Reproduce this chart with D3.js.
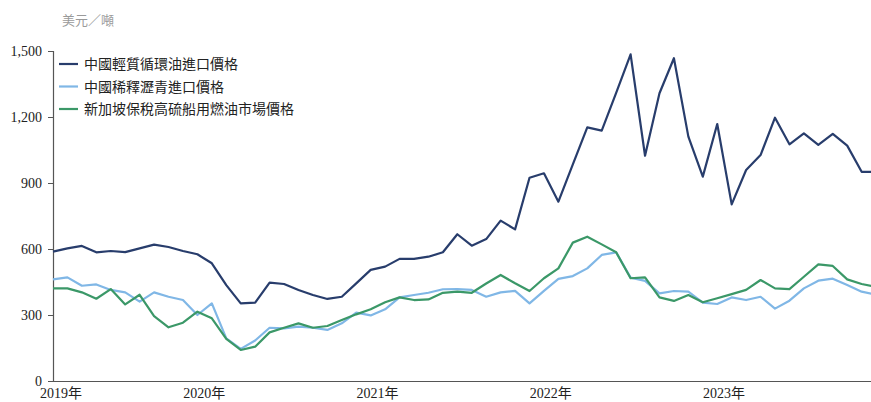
<!DOCTYPE html>
<html>
<head>
<meta charset="utf-8">
<script src="https://cdn.jsdelivr.net/npm/d3@7"></script>
<style>
  body { margin: 0; background: #fff; }
  svg { display: block; }
</style>
</head>
<body>
<svg id="chart" width="871" height="402"></svg>
<script>
// months from 2019-01 onward (last one sits just past the right edge)
let months = d3.range(58).map(i => {
  let y = 2019 + Math.floor(i / 12), m = (i % 12) + 1;
  return y + "-" + (m < 10 ? "0" + m : m);
});

let seriesNames = ["中國輕質循環油進口價格", "中國稀釋瀝青進口價格", "新加坡保稅高硫船用燃油市場價格"];

let lcoPrice = [
  588, 603, 614, 585, 591, 586, 603, 620, 609, 591, 576, 535,
  436, 353, 356, 447, 441, 414, 391, 373, 383, 444, 505, 520,
  555, 555, 565, 585, 667, 615, 645, 729, 689, 924, 944, 815,
  985, 1153, 1138, 1310, 1485, 1024, 1308, 1467, 1111, 929, 1168, 803,
  959, 1027, 1197, 1076, 1126, 1073, 1123, 1070, 951, 950
];
let bitumenPrice = [
  462, 471, 433, 439, 414, 403, 361, 403, 383, 368, 300, 353,
  194, 146, 184, 242, 239, 247, 242, 232, 262, 311, 298, 326,
  380, 391, 401, 417, 418, 414, 383, 403, 410, 353, 410, 464,
  477, 512, 573, 585, 470, 455, 398, 409, 406, 356, 350, 380,
  368, 383, 329, 365, 421, 456, 465, 436, 406, 393
];
let hsfoPrice = [
  421, 421, 403, 374, 418, 348, 392, 295, 244, 265, 315, 285,
  191, 141, 156, 221, 242, 262, 242, 250, 277, 303, 326, 358,
  380, 368, 371, 401, 406, 401, 443, 482, 444, 409, 467, 512,
  629, 656, 621, 585, 467, 471, 380, 364, 391, 358, 376, 395,
  414, 459, 421, 418, 474, 530, 523, 462, 441, 428
];

let yTicks = [0, 300, 600, 900, 1200, 1500];
let yearLabels = ["2019", "2020", "2021", "2022", "2023"];

let colors = ["#283d6c", "#80b7e6", "#3b9868"];
let allSeries = [lcoPrice, bitumenPrice, hsfoPrice];

let svg = d3.select("#chart");

let x = d3.scalePoint()
  .domain(months)
  .range([53, 53 + 57 * 14.44]);
let y = d3.scaleLinear()
  .domain([0, 1500])
  .range([381, 51]);

// unit label
svg.append("text")
  .attr("x", 62)
  .attr("y", 25)
  .attr("fill", "#9a9a9a")
  .style("font-family", "'Noto Sans CJK TC', sans-serif")
  .style("font-size", "13px")
  .text("美元／噸");

// y axis
let yAxis = svg.append("g")
  .attr("transform", "translate(53,0)")
  .call(d3.axisLeft(y).tickValues(yTicks).tickSize(5).tickPadding(6).tickFormat(d3.format(",")));
yAxis.select(".domain").attr("stroke", "#555").attr("stroke-width", 1.2);
yAxis.selectAll(".tick line").attr("stroke", "#555");
yAxis.selectAll("text")
  .attr("fill", "#222")
  .style("font-family", "'Liberation Serif', serif")
  .style("font-size", "14px");

// x axis line
svg.append("line")
  .attr("x1", 53).attr("x2", 871)
  .attr("y1", 381.5).attr("y2", 381.5)
  .attr("stroke", "#555")
  .attr("stroke-width", 1.2);

// year labels, right aligned on January
svg.selectAll(".year")
  .data(yearLabels)
  .enter()
  .append("text")
  .attr("class", "year")
  .attr("x", (d, i) => i == 0 ? x(d + "-01") - 13 : x(d + "-01") - 1)
  .attr("y", 398)
  .attr("text-anchor", (d, i) => i == 0 ? "start" : "end")
  .attr("fill", "#222")
  .style("font-family", "'Liberation Serif', 'Noto Sans CJK TC', serif")
  .style("font-size", "14px")
  .text(d => d + "年");

// lines
let line = d3.line()
  .x((d, i) => x(months[i]))
  .y(d => y(d));

svg.selectAll(".series")
  .data(allSeries)
  .enter()
  .append("path")
  .attr("class", "series")
  .attr("d", line)
  .attr("fill", "none")
  .attr("stroke", (d, i) => colors[i])
  .attr("stroke-width", 2.2)
  .attr("stroke-linejoin", "round");

// legend
let legend = svg.selectAll(".legend")
  .data(seriesNames)
  .enter()
  .append("g")
  .attr("class", "legend")
  .attr("transform", (d, i) => "translate(59," + (64 + i * 22.5) + ")");

legend.append("line")
  .attr("x1", 0).attr("x2", 19)
  .attr("stroke", (d, i) => colors[i])
  .attr("stroke-width", 2.2);

legend.append("text")
  .attr("x", 25)
  .attr("y", 5)
  .attr("fill", "#222")
  .style("font-family", "'Noto Sans CJK TC', sans-serif")
  .style("font-size", "14px")
  .text(d => d);
</script>
</body>
</html>
